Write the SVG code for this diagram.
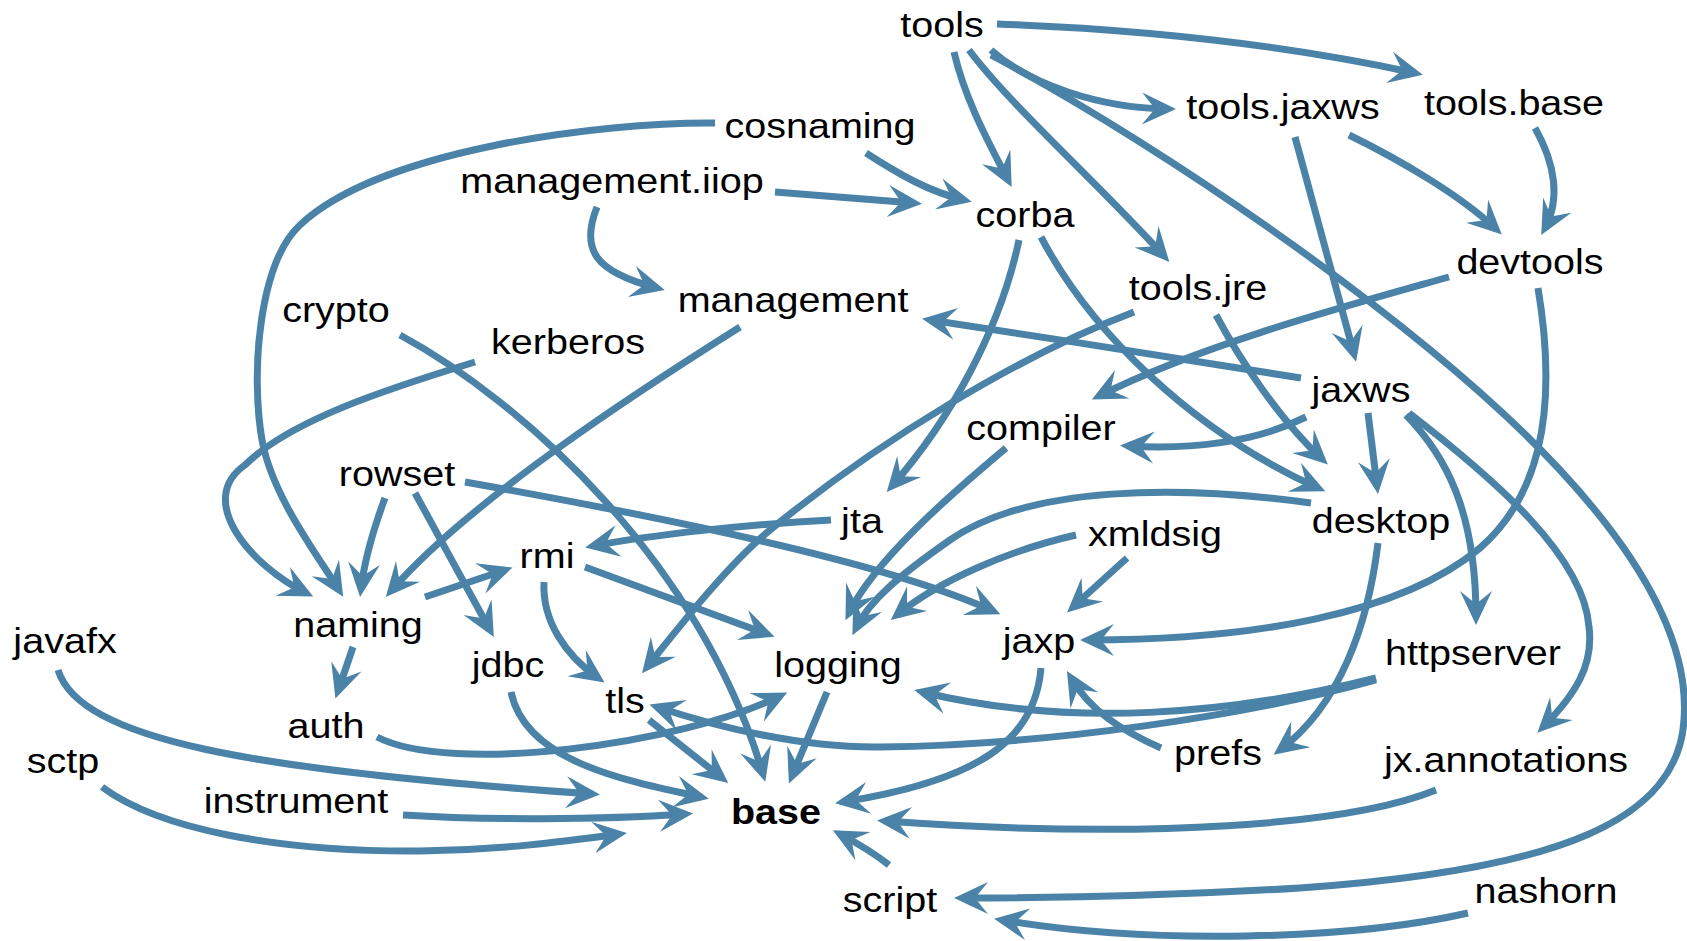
<svg xmlns="http://www.w3.org/2000/svg" width="1687" height="941" viewBox="0 0 1687 941">
<style>
.e{fill:none;stroke:#4a83a7;stroke-width:7;marker-end:url(#ah)}
.t{font-family:"Liberation Sans",Arial,Helvetica,sans-serif;font-size:35px;fill:#000;text-anchor:middle}
.b{font-weight:bold}
</style>
<defs>
<marker id="ah" markerUnits="userSpaceOnUse" viewBox="-30 -20 40 40" refX="0" refY="0" markerWidth="40" markerHeight="40" orient="auto" overflow="visible"><path d="M8,0 L-26,-16 L-13,0 L-26,16 Z" fill="#4a83a7"/></marker>
</defs>
<rect width="1687" height="941" fill="#fff"/>
<g id="edges">
<path class="e" d="M997,24 C1160,30 1300,48 1415,73"/>
<path class="e" d="M991,50 C1030,85 1100,108 1168,109"/>
<path class="e" d="M954,52 C965,100 990,145 1008,180"/>
<path class="e" d="M969,50 C1010,105 1100,185 1164,256"/>
<path class="e" d="M991,55 C1170,150 1430,330 1560,470 C1638,554 1690,640 1684,720 C1678,820 1560,870 1300,888 C1150,897 1050,898 962,898"/>
<path class="e" d="M1349,135 C1400,160 1460,195 1496,229"/>
<path class="e" d="M1535,128 C1556,165 1560,200 1545,228"/>
<path class="e" d="M1295,137 L1354,354"/>
<path class="e" d="M1449,277 C1350,305 1200,345 1099,396"/>
<path class="e" d="M1538,288 C1560,420 1535,500 1480,548 C1400,615 1250,640 1088,640"/>
<path class="e" d="M715,123 C600,122 380,150 300,225 C260,262 250,370 262,440 C272,496 318,556 339,590"/>
<path class="e" d="M866,153 C900,175 930,192 964,200"/>
<path class="e" d="M775,192 L914,203"/>
<path class="e" d="M597,207 C580,250 595,272 657,288"/>
<path class="e" d="M740,327 C640,390 470,500 391,591"/>
<path class="e" d="M475,362 C390,388 290,420 245,465 C195,500 250,565 306,593"/>
<path class="e" d="M385,498 C375,525 365,555 361,589"/>
<path class="e" d="M415,493 L490,630"/>
<path class="e" d="M465,482 C650,515 880,560 993,611"/>
<path class="e" d="M425,597 L505,570"/>
<path class="e" d="M353,647 L338,691"/>
<path class="e" d="M831,520 C750,524 650,535 593,546"/>
<path class="e" d="M585,567 L767,634"/>
<path class="e" d="M544,582 C542,620 565,655 598,678"/>
<path class="e" d="M511,692 C525,760 620,780 701,797"/>
<path class="e" d="M649,720 L722,778"/>
<path class="e" d="M400,335 C520,400 700,560 763,774"/>
<path class="e" d="M827,692 L792,776"/>
<path class="e" d="M377,737 C450,775 680,745 780,696"/>
<path class="e" d="M58,670 C80,740 250,770 592,794"/>
<path class="e" d="M403,815 C480,820 600,820 685,814"/>
<path class="e" d="M102,787 C160,830 280,852 420,851 C500,850 560,842 619,834"/>
<path class="e" d="M889,865 C870,850 855,842 840,834"/>
<path class="e" d="M1041,668 C1035,740 980,780 843,802"/>
<path class="e" d="M1436,790 C1350,825 1150,840 885,821"/>
<path class="e" d="M1468,913 C1350,940 1150,945 1002,920"/>
<path class="e" d="M1376,678 C1230,715 1070,728 922,692"/>
<path class="e" d="M1376,680 C1250,715 1050,745 880,747 C800,748 714,726 657,707"/>
<path class="e" d="M1161,748 C1120,730 1090,710 1071,678"/>
<path class="e" d="M1127,558 L1073,607"/>
<path class="e" d="M1076,535 C1010,550 940,580 897,615"/>
<path class="e" d="M1311,503 C1180,485 1030,485 950,540 C900,575 870,600 856,628"/>
<path class="e" d="M1019,240 C1000,330 950,420 892,486"/>
<path class="e" d="M1006,448 C950,495 875,560 849,613"/>
<path class="e" d="M1041,237 C1090,330 1190,430 1318,488"/>
<path class="e" d="M1216,315 C1240,360 1280,420 1322,459"/>
<path class="e" d="M1368,413 L1377,486"/>
<path class="e" d="M1306,417 C1260,440 1200,450 1128,446"/>
<path class="e" d="M1301,378 C1200,362 1050,338 930,320"/>
<path class="e" d="M1406,415 C1445,455 1476,510 1476,617"/>
<path class="e" d="M1409,413 C1497,481 1584,557 1589,627 C1594,665 1575,695 1543,727"/>
<path class="e" d="M1134,312 C1020,355 880,440 770,530 C726,566 672,636 647,667"/>
<path class="e" d="M1378,543 C1368,625 1340,705 1280,750"/>
</g>
<g id="tools"><text class="t" transform="translate(942,37) scale(1.13,1)">tools</text></g>
<g id="tools.jaxws"><text class="t" transform="translate(1283,119) scale(1.13,1)">tools.jaxws</text></g>
<g id="tools.base"><text class="t" transform="translate(1514,115) scale(1.13,1)">tools.base</text></g>
<g id="cosnaming"><text class="t" transform="translate(820,138) scale(1.13,1)">cosnaming</text></g>
<g id="management.iiop"><text class="t" transform="translate(612,193) scale(1.13,1)">management.iiop</text></g>
<g id="corba"><text class="t" transform="translate(1025,227) scale(1.13,1)">corba</text></g>
<g id="devtools"><text class="t" transform="translate(1530,274) scale(1.13,1)">devtools</text></g>
<g id="tools.jre"><text class="t" transform="translate(1198,300) scale(1.13,1)">tools.jre</text></g>
<g id="crypto"><text class="t" transform="translate(336,322) scale(1.13,1)">crypto</text></g>
<g id="management"><text class="t" transform="translate(793,312) scale(1.13,1)">management</text></g>
<g id="kerberos"><text class="t" transform="translate(568,354) scale(1.13,1)">kerberos</text></g>
<g id="jaxws"><text class="t" transform="translate(1361,402) scale(1.13,1)">jaxws</text></g>
<g id="compiler"><text class="t" transform="translate(1041,440) scale(1.13,1)">compiler</text></g>
<g id="rowset"><text class="t" transform="translate(397,486) scale(1.13,1)">rowset</text></g>
<g id="jta"><text class="t" transform="translate(862,533) scale(1.13,1)">jta</text></g>
<g id="desktop"><text class="t" transform="translate(1381,533) scale(1.13,1)">desktop</text></g>
<g id="xmldsig"><text class="t" transform="translate(1155,546) scale(1.13,1)">xmldsig</text></g>
<g id="rmi"><text class="t" transform="translate(547,568) scale(1.13,1)">rmi</text></g>
<g id="naming"><text class="t" transform="translate(358,637) scale(1.13,1)">naming</text></g>
<g id="javafx"><text class="t" transform="translate(65,653) scale(1.13,1)">javafx</text></g>
<g id="jaxp"><text class="t" transform="translate(1039,653) scale(1.13,1)">jaxp</text></g>
<g id="jdbc"><text class="t" transform="translate(508,677) scale(1.13,1)">jdbc</text></g>
<g id="logging"><text class="t" transform="translate(838,677) scale(1.13,1)">logging</text></g>
<g id="httpserver"><text class="t" transform="translate(1473,665) scale(1.13,1)">httpserver</text></g>
<g id="tls"><text class="t" transform="translate(625,713) scale(1.13,1)">tls</text></g>
<g id="auth"><text class="t" transform="translate(326,738) scale(1.13,1)">auth</text></g>
<g id="prefs"><text class="t" transform="translate(1218,765) scale(1.13,1)">prefs</text></g>
<g id="jx.annotations"><text class="t" transform="translate(1506,772) scale(1.13,1)">jx.annotations</text></g>
<g id="sctp"><text class="t" transform="translate(63,773) scale(1.13,1)">sctp</text></g>
<g id="instrument"><text class="t" transform="translate(296,813) scale(1.13,1)">instrument</text></g>
<g id="base"><text class="t b" transform="translate(776,824) scale(1.13,1)">base</text></g>
<g id="script"><text class="t" transform="translate(890,912) scale(1.13,1)">script</text></g>
<g id="nashorn"><text class="t" transform="translate(1546,903) scale(1.13,1)">nashorn</text></g>
</svg>
